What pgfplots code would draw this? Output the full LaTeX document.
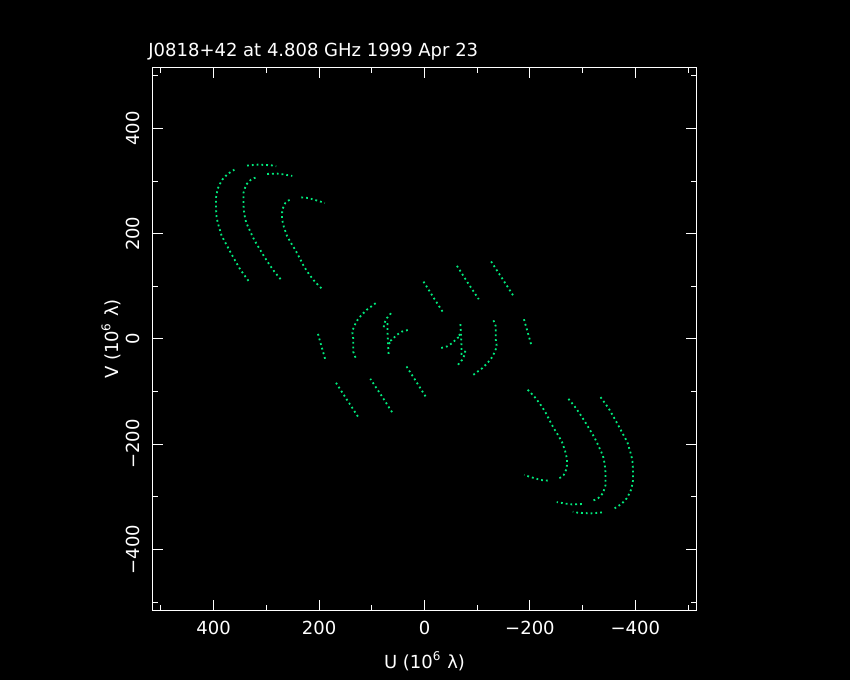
\documentclass[border=0pt]{standalone}
\usepackage{fontspec}
\setmainfont{DejaVu Sans}
\usepackage{pgfplots}
\pgfplotsset{compat=1.18}
\definecolor{uvgreen}{RGB}{0,235,125}
\begin{document}
\begin{tikzpicture}[font=\fontsize{9}{11}\selectfont]
\fill[black] (0,0) rectangle (425pt,340pt);
\begin{axis}[name=ax, at={(76.5pt,35pt)}, anchor=south west,
  scale only axis, width=271.5pt, height=271pt,
  x dir=reverse, xmin=-515, xmax=515, ymin=-515, ymax=515,
  xtick={-400,-200,0,200,400}, xticklabels={−400,−200,0,200,400},
  ytick={-400,-200,0,200,400}, yticklabels={−400,−200,0,200,400},
  minor xtick={-500,-300,-100,100,300,500},
  minor ytick={-500,-300,-100,100,300,500},
  major tick length=5pt, minor tick length=2.5pt, tick align=inside,
  axis line style={white, line width=0.5pt},
  every tick/.style={white, line width=0.5pt},
  tick label style={white},
  xticklabel style={yshift=-2pt},
  yticklabel style={xshift=-3pt, rotate=90, anchor=south},
  xlabel={U (10\textsuperscript{6} λ)}, ylabel={V (10\textsuperscript{6} λ)},
  every axis x label/.style={at={(axis description cs:0.5,0)}, anchor=center, yshift=-25.5pt, white},
  every axis y label/.style={at={(axis description cs:0,0.5)}, anchor=center, xshift=-21pt, rotate=90, white},
  unbounded coords=jump,
  trk/.style={color=uvgreen, line width=0.9pt, dash pattern=on 0.9pt off 1.5pt, mark=none},
]
% tracks as read (u, v)
\addplot[trk] table[row sep=\\] {
u v\\
333.9 110.5\\ 349.1 131.4\\ 361.9 153.7\\ 373.3 174.7\\ 384.8 196.2\\ 390.5 215.2\\ 394.3 229.9\\ 395.6 249.0\\ 395.6 268.0\\ 392.4 285.1\\ 384.8 301.5\\ 373.3 313.7\\ 360.6 321.9\\
nan nan\\
336.6 329.5\\ 316.2 331.4\\ 290.9 330.1\\ 281.3 328.2\\
nan nan\\
273.0 113.7\\ 284.4 127.6\\ 293.9 141.0\\ 303.4 155.6\\ 311.8 169.5\\ 319.4 182.2\\ 325.7 193.7\\ 332.0 207.6\\ 338.4 221.5\\ 341.6 236.2\\ 343.5 255.2\\ 343.5 277.5\\ 338.4 293.3\\ 329.0 302.9\\ 318.1 308.0\\
nan nan\\
298.4 313.7\\ 279.4 314.3\\ 268.6 313.0\\ 250.8 309.9\\
nan nan\\
195.6 96.6\\ 208.2 109.2\\ 219.0 123.2\\ 228.6 137.7\\ 236.8 153.7\\ 245.1 169.5\\ 253.9 183.4\\ 260.9 196.2\\ 266.7 212.7\\ 270.5 228.6\\ 269.9 245.7\\ 264.1 258.4\\ 259.0 262.9\\ 251.4 266.0\\
nan nan\\
233.7 269.2\\ 221.0 268.0\\ 209.5 264.8\\ 198.7 261.5\\ 189.1 258.4\\
nan nan\\
92.7 68.0\\ 109.9 55.2\\ 119.4 45.7\\ 127.0 36.2\\ 133.3 24.8\\ 137.1 13.9\\ 135.2 1.3\\ 135.2 -24.1\\ 132.0 -32.4\\ 128.9 -40.0\\
nan nan\\
63.5 48.9\\ 71.7 39.4\\ 76.8 28.6\\ 77.5 17.1\\
nan nan\\
70 30\\ 70 10\\ 69 -10\\ 68 -29\\
nan nan\\
31.8 17.1\\ 43.2 13.9\\ 52.8 7.6\\ 62.3 -1.9\\ 68.6 -5.1\\ 65.3 -9.5\\
nan nan\\
1.9 109\\ -17 79\\ -36.2 49\\
nan nan\\
-61.6 139\\ -82 107\\ -102.9 75.6\\
nan nan\\
-126.3 147.3\\ -148 114\\ -169.5 80.6\\
nan nan\\
-188.6 37.5\\ -196 12\\ -202.5 -11.4\\
};
% conjugate tracks (-u, -v)
\addplot[trk] table[row sep=\\] {
u v\\
-333.9 -110.5\\ -349.1 -131.4\\ -361.9 -153.7\\ -373.3 -174.7\\ -384.8 -196.2\\ -390.5 -215.2\\ -394.3 -229.9\\ -395.6 -249.0\\ -395.6 -268.0\\ -392.4 -285.1\\ -384.8 -301.5\\ -373.3 -313.7\\ -360.6 -321.9\\
nan nan\\
-336.6 -329.5\\ -316.2 -331.4\\ -290.9 -330.1\\ -281.3 -328.2\\
nan nan\\
-273.0 -113.7\\ -284.4 -127.6\\ -293.9 -141.0\\ -303.4 -155.6\\ -311.8 -169.5\\ -319.4 -182.2\\ -325.7 -193.7\\ -332.0 -207.6\\ -338.4 -221.5\\ -341.6 -236.2\\ -343.5 -255.2\\ -343.5 -277.5\\ -338.4 -293.3\\ -329.0 -302.9\\ -318.1 -308.0\\
nan nan\\
-298.4 -313.7\\ -279.4 -314.3\\ -268.6 -313.0\\ -250.8 -309.9\\
nan nan\\
-195.6 -96.6\\ -208.2 -109.2\\ -219.0 -123.2\\ -228.6 -137.7\\ -236.8 -153.7\\ -245.1 -169.5\\ -253.9 -183.4\\ -260.9 -196.2\\ -266.7 -212.7\\ -270.5 -228.6\\ -269.9 -245.7\\ -264.1 -258.4\\ -259.0 -262.9\\ -251.4 -266.0\\
nan nan\\
-233.7 -269.2\\ -221.0 -268.0\\ -209.5 -264.8\\ -198.7 -261.5\\ -189.1 -258.4\\
nan nan\\
-92.7 -68.0\\ -109.9 -55.2\\ -119.4 -45.7\\ -127.0 -36.2\\ -133.3 -24.8\\ -137.1 -13.9\\ -135.2 -1.3\\ -135.2 24.1\\ -132.0 32.4\\ -128.9 40.0\\
nan nan\\
-63.5 -48.9\\ -71.7 -39.4\\ -76.8 -28.6\\ -77.5 -17.1\\
nan nan\\
-70 -30\\ -70 -10\\ -69 10\\ -68 29\\
nan nan\\
-31.8 -17.1\\ -43.2 -13.9\\ -52.8 -7.6\\ -62.3 1.9\\ -68.6 5.1\\ -65.3 9.5\\
nan nan\\
-1.9 -109\\ 17 -79\\ 36.2 -49\\
nan nan\\
61.6 -139\\ 82 -107\\ 102.9 -75.6\\
nan nan\\
126.3 -147.3\\ 148 -114\\ 169.5 -80.6\\
nan nan\\
188.6 -37.5\\ 196 -12\\ 202.5 11.4\\
};
\end{axis}
\node[anchor=base west, white, inner sep=0pt] at ([shift={(-2.5pt,5.5pt)}]ax.north west) {J0818+42 at 4.808 GHz 1999 Apr 23};
\end{tikzpicture}
\end{document}
